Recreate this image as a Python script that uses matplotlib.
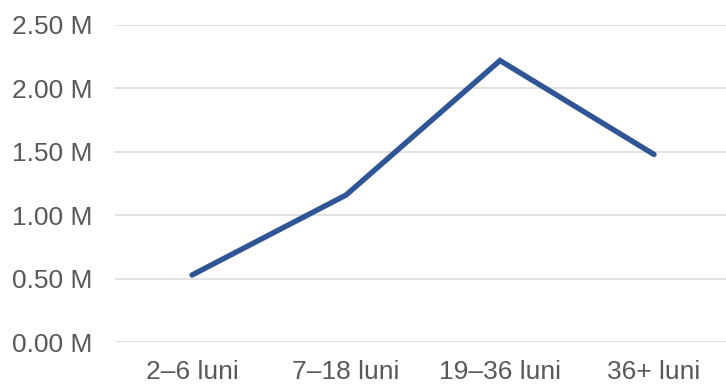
import matplotlib
matplotlib.use("Agg")
import matplotlib.pyplot as plt
from matplotlib.ticker import FuncFormatter, MultipleLocator

plt.rcParams['font.family'] = ['Liberation Sans', 'DejaVu Sans']

categories = ["2–6 luni", "7–18 luni", "19–36 luni", "36+ luni"]
values_m = [0.53, 1.16, 2.22, 1.48]

LINE_COLOR = "#2F5597"
TEXT_COLOR = "#595959"
GRID_COLOR = "#D9D9D9"

fig = plt.figure(figsize=(7.26, 3.84), dpi=100)
ax = fig.add_axes([0.1584, 0.1086, 0.8485, 0.8263])

x = list(range(len(categories)))
ax.plot(x, values_m, color=LINE_COLOR, linewidth=3.9,
        solid_capstyle="round", solid_joinstyle="miter", zorder=3)

ax.set_xlim(-0.5, len(categories) - 0.5)
ax.set_ylim(0, 2.5)
ax.yaxis.set_major_locator(MultipleLocator(0.5))
ax.yaxis.set_major_formatter(FuncFormatter(lambda v, _: f"{v:.2f} M"))
ax.set_xticks(x)
ax.set_xticklabels(categories)

ax.grid(axis="y", color=GRID_COLOR, linewidth=1.1)
ax.set_axisbelow(True)
for s in ax.spines.values():
    s.set_visible(False)

ax.tick_params(axis="y", length=0, pad=16, labelsize=19, labelcolor=TEXT_COLOR)
ax.tick_params(axis="x", length=0, pad=13, labelsize=19, labelcolor=TEXT_COLOR)

fig.savefig("out.png", dpi=100)
